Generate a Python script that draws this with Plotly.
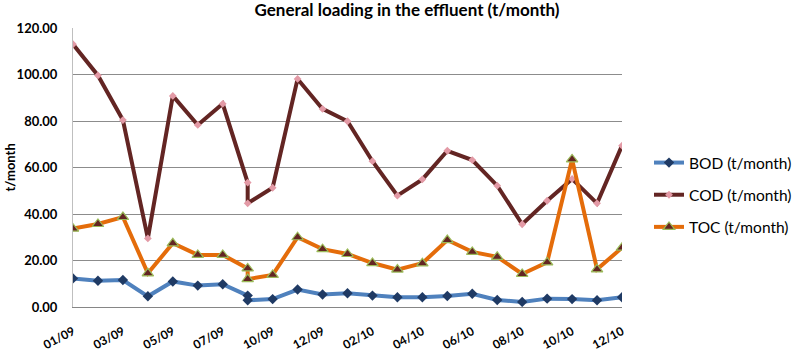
import plotly.graph_objects as go

# Month slots (Aug and Sep 2009 share one slot in the original chart)
months = ["01/09", "02/09", "03/09", "04/09", "05/09", "06/09", "07/09", "08/09", "08/09",
          "10/09", "11/09", "12/09", "01/10", "02/10", "03/10", "04/10", "05/10", "06/10",
          "07/10", "08/10", "09/10", "10/10", "11/10", "12/10"]
tick_labels = ["01/09", "03/09", "05/09", "07/09", "10/09", "12/09", "02/10", "04/10",
               "06/10", "08/10", "10/10", "12/10"]

bod = [12.3, 11.3, 11.6, 4.6, 11.0, 9.2, 9.8, 4.9, 2.9, 3.4, 7.5, 5.4, 5.9, 4.9, 4.2, 4.2,
       4.7, 5.7, 3.0, 2.2, 3.6, 3.4, 2.9, 4.2]
cod = [113.0, 99.6, 80.4, 29.5, 90.8, 78.3, 87.4, 53.5, 44.6, 51.3, 98.1, 85.2, 79.9, 62.7,
       47.9, 54.9, 67.2, 63.2, 52.2, 35.6, 45.7, 55.1, 44.6, 69.4]
toc = [33.7, 35.7, 38.7, 14.5, 27.4, 22.4, 22.4, 16.6, 12.0, 13.8, 30.0, 24.9, 22.8, 18.9,
       16.1, 18.8, 28.8, 23.7, 21.6, 14.2, 19.2, 63.5, 16.2, 25.5]

FONT = "Lato"
W, H = 797, 351
L, R, T, B = 73, 175, 28, 44

fig = go.Figure()
fig.add_trace(go.Scatter(
    x=months, y=bod, name="BOD (t/month)", mode="lines+markers", legendgroup="a",
    line=dict(color="#4F81BD", width=4),
    marker=dict(symbol="diamond", size=8, color="#1F3A64")))
fig.add_trace(go.Scatter(
    x=months, y=cod, name="COD (t/month)", mode="lines+markers", legendgroup="b",
    line=dict(color="#632523", width=4),
    marker=dict(symbol="diamond", size=6, color="#E39AA6")))
fig.add_trace(go.Scatter(
    x=months, y=toc, name="TOC (t/month)", mode="lines+markers", legendgroup="c",
    line=dict(color="#E46C0A", width=4),
    marker=dict(symbol="triangle-up", size=10, color="#632523",
                line=dict(color="#9BBB59", width=1.2))))

fig.update_layout(
    width=W, height=H,
    margin=dict(l=L, r=R, t=T, b=B, autoexpand=False),
    paper_bgcolor="white", plot_bgcolor="white",
    font=dict(family=FONT, color="black"),
    title=dict(text="<b>General loading in the effluent (t/month)</b>",
               x=407 / W, xanchor="center", xref="container",
               y=1 - 10 / H, yanchor="middle",
               font=dict(size=17, family=FONT, color="black")),
    showlegend=True,
    legend=dict(x=(649 - L) / (W - L - R), xanchor="left",
                y=(H - B - 146) / (H - T - B), yanchor="top",
                font=dict(size=15.5, family=FONT, color="black"),
                tracegroupgap=9, bgcolor="rgba(0,0,0,0)"),
    xaxis=dict(type="category", range=[0, 22], tickmode="array", tickvals=tick_labels,
               ticktext=tick_labels, tickangle=-28, showgrid=False, automargin=False,
               showline=True, linecolor="#868686", linewidth=1,
               ticks="", ticklabelstandoff=12,
               tickfont=dict(size=12, family=FONT, color="black", weight="bold")),
    yaxis=dict(range=[0, 120], tickvals=[0, 20, 40, 60, 80, 100, 120],
               ticktext=["0.00", "20.00", "40.00", "60.00", "80.00", "100.00", "120.00"],
               showgrid=True, gridcolor="#8C8C8C", gridwidth=1, automargin=False,
               showline=True, linecolor="#BFBFBF", linewidth=1,
               zeroline=False, ticks="", ticklabelstandoff=12,
               tickfont=dict(size=13, family=FONT, color="black", weight="bold")),
    annotations=[dict(text="<b>t/month</b>", textangle=-90, xref="paper", yref="paper",
                      x=(9.5 - L) / (W - L - R), y=(H - B - 168) / (H - T - B),
                      xanchor="center", yanchor="middle", showarrow=False,
                      font=dict(size=13, family=FONT, color="black"))],
)

fig.write_html("out.html")
